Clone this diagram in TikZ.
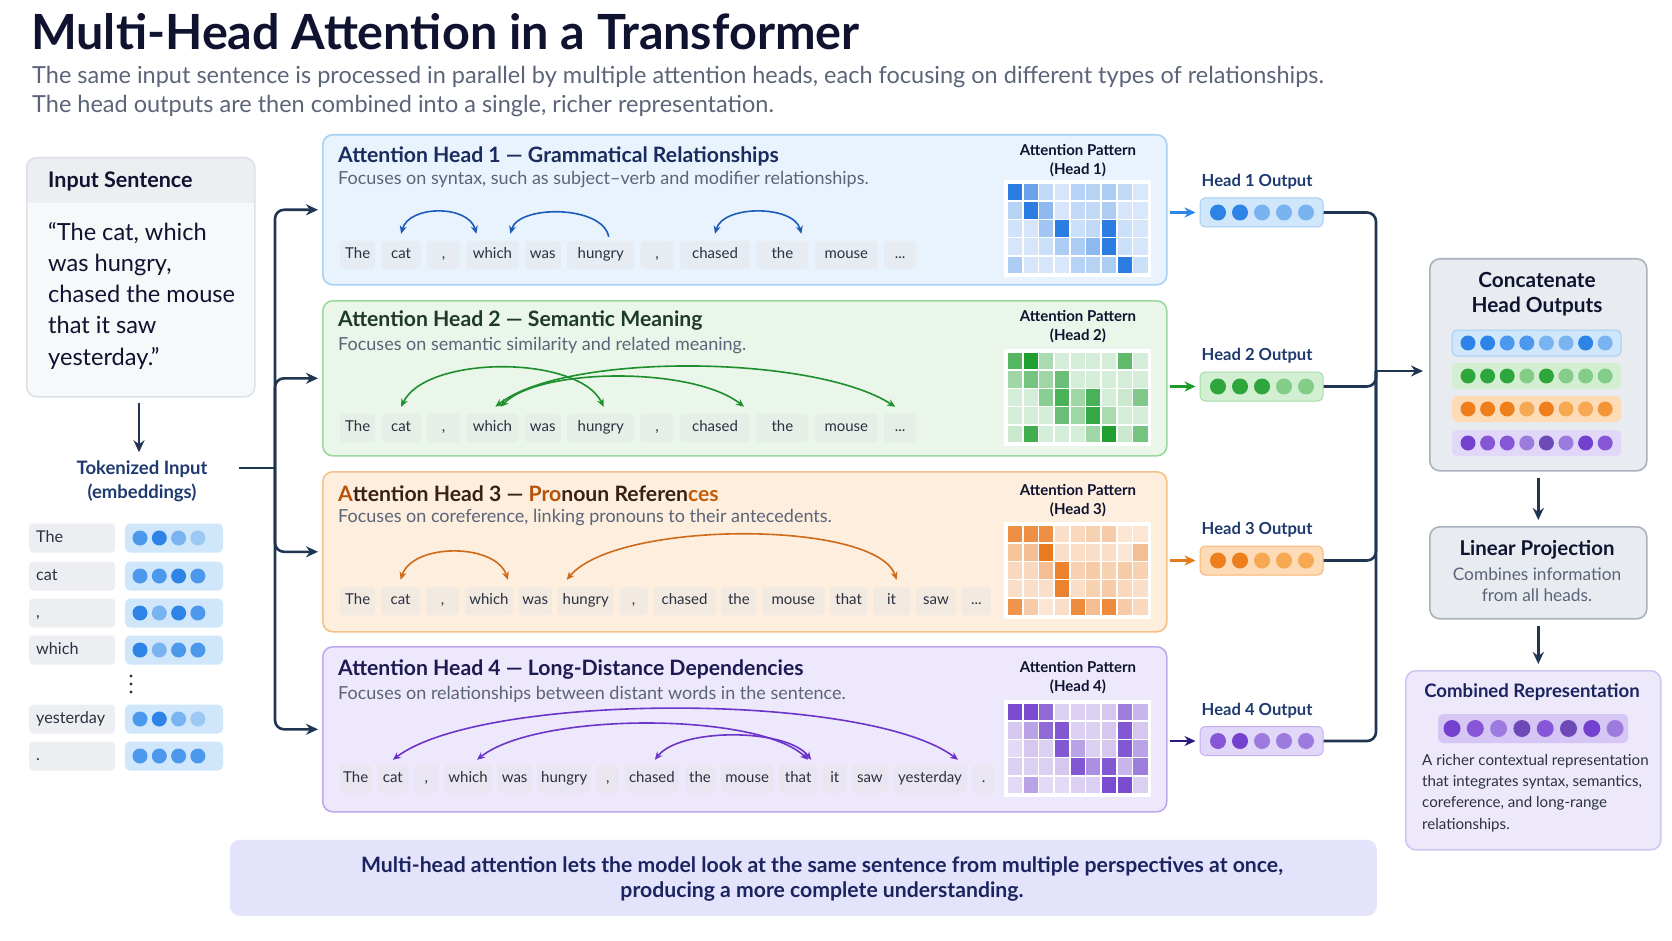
\documentclass[tikz,border=0pt]{standalone}
\usepackage{fontspec}
\setmainfont{Lato}
\usepackage{xcolor}
\usetikzlibrary{arrows.meta,positioning,calc}

\definecolor{mhnavy}{HTML}{1F3552}
\definecolor{titlec}{HTML}{0F1330}
\definecolor{subc}{HTML}{5B6478}
\definecolor{tokc}{HTML}{2B3140}
\definecolor{labc}{HTML}{1E3A6E}
\definecolor{h1fill}{HTML}{E8F3FD}
\definecolor{h1line}{HTML}{A8D1F4}
\definecolor{h1text}{HTML}{1A2B5E}
\definecolor{h1arc}{HTML}{1D5BB8}
\definecolor{h1out}{HTML}{2B86E4}
\definecolor{hm1}{HTML}{1A72E0}
\definecolor{h2fill}{HTML}{E9F6E9}
\definecolor{h2line}{HTML}{9BD89B}
\definecolor{h2text}{HTML}{1F3A28}
\definecolor{h2arc}{HTML}{1F8F2D}
\definecolor{h2out}{HTML}{1E9A2A}
\definecolor{hm2}{HTML}{139A25}
\definecolor{h3fill}{HTML}{FDEEDE}
\definecolor{h3line}{HTML}{F6C08A}
\definecolor{h3text}{HTML}{3A2212}
\definecolor{h3acc}{HTML}{B5530C}
\definecolor{h3arc}{HTML}{CF6A1A}
\definecolor{h3out}{HTML}{E07A1C}
\definecolor{hm3}{HTML}{E86E0C}
\definecolor{h4fill}{HTML}{EEE8FC}
\definecolor{h4line}{HTML}{BEA9EF}
\definecolor{h4text}{HTML}{1D1A52}
\definecolor{h4arc}{HTML}{6A35C8}
\definecolor{h4out}{HTML}{2C1A80}
\definecolor{hm4}{HTML}{6430C8}
\definecolor{insfill}{HTML}{F6F8FA}
\definecolor{insline}{HTML}{DDE2EA}
\definecolor{inshdr}{HTML}{ECEEF1}
\definecolor{grayfill}{HTML}{E8EBF0}
\definecolor{grayline}{HTML}{A9B1BD}
\definecolor{combfill}{HTML}{EDE9FB}
\definecolor{combline}{HTML}{CFC6F3}
\definecolor{bannerfill}{HTML}{E3E4FB}
\definecolor{bannertext}{HTML}{1C2460}
\definecolor{bluevec}{HTML}{CFE6FB}
\definecolor{bluevecline}{HTML}{A4CEF3}
\definecolor{greenvec}{HTML}{D2EFD2}
\definecolor{greenvecline}{HTML}{A6DCA6}
\definecolor{orangevec}{HTML}{FDDBB6}
\definecolor{orangevecline}{HTML}{F5B677}
\definecolor{purplevec}{HTML}{E1D7F8}
\definecolor{purplevecline}{HTML}{C4B0F0}
\definecolor{combvec}{HTML}{D6C6F5}
\definecolor{bA}{HTML}{2D84E6}
\definecolor{bB}{HTML}{4C98EC}
\definecolor{bC}{HTML}{79B4F0}
\definecolor{bD}{HTML}{9CC8F4}
\definecolor{gA}{HTML}{2EA63C}
\definecolor{gB}{HTML}{5CBB64}
\definecolor{gC}{HTML}{84CD88}
\definecolor{oA}{HTML}{EE7F1C}
\definecolor{oB}{HTML}{F39438}
\definecolor{oC}{HTML}{F6A852}
\definecolor{pA}{HTML}{7440CE}
\definecolor{pB}{HTML}{8656D6}
\definecolor{pC}{HTML}{9D7ADE}
\definecolor{pD}{HTML}{6E4AB8}

\newcommand{\px}[2]{\fontsize{#1}{#2}\selectfont}
\newcommand{\tokcomma}{,}
\newcommand{\tokdots}{...}

% token row: prefix, x, y, gap, list of width/text
\newcommand{\tokrow}[5]{%
  \foreach \w/\tx [count=\i] in {#5}{%
    \ifnum\i=1
      \node[tok, minimum width=\w pt, anchor=west] (#1\i) at (#2,#3) {\tx};
    \else
      \pgfmathtruncatemacro{\jprev}{\i-1}
      \node[tok, minimum width=\w pt, right=#4pt of #1\jprev] (#1\i) {\tx};
    \fi}}

% heat map: colour, x, y, rows
\newcommand{\heatmap}[4]{%
  \fill[white] ({#2-3},{#3-3}) rectangle ({#2+144},{#3+94});
  \foreach \row [count=\r from 0] in {#4}{%
    \foreach \v [count=\c from 0] in \row{%
      \pgfmathtruncatemacro{\vv}{10+0.9*\v}
      \fill[#1!\vv!white] ({#2+\c*15.7+0.8},{#3+\r*18.2+0.8}) rectangle ++(14.1,16.6);}}}

% dots of a vector: first x, y, step, radius, colours
\newcommand{\dotrow}[5]{%
  \foreach \col [count=\k from 0] in {#5}
    \fill[\col] ({#1+\k*#3},#2) circle[radius=#4pt];}

\begin{document}
\begin{tikzpicture}[
    x=1pt, y=-1pt,
    panel/.style={rounded corners=10pt, line width=1.6pt, anchor=north west, inner sep=0pt},
    tok/.style={fill=black!10, fill opacity=0.45, text opacity=1, rounded corners=3pt, minimum height=28pt, inner xsep=1pt, text height=10.5pt, text depth=3pt, font=\px{15}{17}, text=tokc},
    htitle/.style={anchor=west, inner sep=0pt, font=\px{21.2}{25}\bfseries},
    hsub/.style={anchor=west, inner sep=0pt, font=\px{18}{21}, text=subc},
    pattern/.style={align=center, font=\px{15}{19}\bfseries, text=titlec},
    outlab/.style={inner sep=0pt, font=\px{16.6}{19}\bfseries, text=labc},
    vecbox/.style={rounded corners=5pt, line width=1pt, minimum height=29pt},
    bus/.style={line width=2.6pt, draw=mhnavy, rounded corners=9pt},
    arrow/.style={bus, -{Stealth[length=12pt, width=11pt]}},
    outarrow/.style={line width=2.6pt, -{Stealth[length=11pt, width=10pt]}},
    arcs/.style={line width=1.6pt, {Stealth[length=8pt, width=7pt]}-{Stealth[length=8pt, width=7pt]}},
    arc/.style={line width=1.6pt, -{Stealth[length=8pt, width=7pt]}}
]
\useasboundingbox (0,0) rectangle (1672,941);
\fill[white] (0,0) rectangle (1672,941);

% Title
\node[anchor=west, inner sep=0pt, font=\px{48.5}{52}\bfseries, text=titlec] (title) at (31,32) {Multi-Head Attention in a Transformer};
\node[anchor=west, inner sep=0pt, font=\px{23.5}{28}, text=subc] (sub1) at (32,77) {The same input sentence is processed in parallel by multiple attention heads, each focusing on different types of relationships.};
\node[anchor=west, inner sep=0pt, font=\px{23.5}{28}, text=subc] (sub2) at (32,106) {The head outputs are then combined into a single, richer representation.};

% Input sentence
\fill[insfill, rounded corners=10pt] (26,157) rectangle (254,396);
\fill[inshdr, rounded corners=9pt] (26,157) rectangle (254,203);
\fill[inshdr] (26,185) rectangle (254,203);
\node[panel, draw=insline, minimum width=228pt, minimum height=239pt] (insent) at (26,157) {};
\node[anchor=west, inner sep=0pt, font=\px{21.5}{25}\bfseries, text=titlec] (inshead) at (48,181) {Input Sentence};
\node[anchor=north west, inner sep=0pt, align=left, font=\px{23.6}{31.2}, text=titlec] (quote) at (48,222) {“The cat, which\\was hungry,\\chased the mouse\\that it saw\\yesterday.”};

\node[align=center, inner sep=0pt, font=\px{18.5}{24}\bfseries, text=labc] (tokin) at (142,481) {Tokenized Input\\(embeddings)};
\draw[arrow, line width=2.4pt, rounded corners=0pt, shorten <=5pt, shorten >=8pt] (insent.south -| 139,0) -- (tokin.north -| 139,0);

% Token embeddings
\foreach \y/\w [count=\n] in {538/The, 576/cat, 613/\tokcomma, 650/which, 719/yesterday, 756/.}{
  \node[fill=inshdr, rounded corners=4pt, minimum height=29pt, text width=72pt, inner xsep=7pt, text height=11pt, text depth=3pt, align=left, anchor=west, font=\px{16.2}{18}, text=tokc] (l\n) at (29,\y) {\w};
  \node[vecbox, fill=bluevec, minimum width=98pt] (v\n) at (174,\y) {};
}
\dotrow{140}{538}{19.3}{7.5}{bB,bA,bC,bD}
\dotrow{140}{576}{19.3}{7.5}{bB,bB,bA,bB}
\dotrow{140}{613}{19.3}{7.5}{bA,bC,bA,bB}
\dotrow{140}{650}{19.3}{7.5}{bA,bC,bB,bB}
\dotrow{140}{719}{19.3}{7.5}{bB,bA,bC,bD}
\dotrow{140}{756}{19.3}{7.5}{bB,bB,bB,bB}
\foreach \y in {676,684,692} \fill[tokc] (131,\y) circle[radius=1.7pt];

% Attention heads
\node[panel, draw=h1line, fill=h1fill, minimum width=844pt, minimum height=150pt] (h1) at (322,134) {};
\node[panel, draw=h2line, fill=h2fill, minimum width=844pt, minimum height=155pt] (h2) at (322,300) {};
\node[panel, draw=h3line, fill=h3fill, minimum width=844pt, minimum height=160pt] (h3) at (322,471) {};
\node[panel, draw=h4line, fill=h4fill, minimum width=844pt, minimum height=165pt] (h4) at (322,646) {};

\node[htitle, text=h1text] (h1title) at (338,156) {Attention Head 1 — Grammatical Relationships};
\node[hsub] (h1sub) at (338,180) {Focuses on syntax, such as subject–verb and modifier relationships.};
\node[htitle, text=h2text] (h2title) at (338,321) {Attention Head 2 — Semantic Meaning};
\node[hsub] (h2sub) at (338,346) {Focuses on semantic similarity and related meaning.};
\node[htitle, text=h3text] (h3title) at (338,494) {\textcolor{h3acc}{A}ttention Head 3 — \textcolor{h3acc}{Pro}noun Referen\textcolor{h3acc!80!orange}{ces}};
\node[hsub] (h3sub) at (338,518) {Focuses on coreference, linking pronouns to their antecedents.};
\node[htitle, text=h4text] (h4title) at (338,670) {Attention Head 4 — Long-Distance Dependencies};
\node[hsub] (h4sub) at (338,694) {Focuses on relationships between distant words in the sentence.};

% Tokens
\tokrow{a}{340}{255}{6}{35/The, 39/cat, 33/\tokcomma, 52/which, 36/was, 67/hungry, 33/\tokcomma, 70/chased, 52/the, 63/mouse, 32/\tokdots}
\tokrow{b}{340}{428}{6}{35/The, 39/cat, 33/\tokcomma, 52/which, 36/was, 67/hungry, 33/\tokcomma, 70/chased, 52/the, 63/mouse, 32/\tokdots}
\tokrow{c}{340}{601}{5.5}{35/The, 39/cat, 33/\tokcomma, 48/which, 33/was, 56/hungry, 28/\tokcomma, 62/chased, 35/the, 62/mouse, 37/that, 37/it, 40/saw, 29/\tokdots}
\tokrow{d}{340}{779}{5.7}{31/The, 31/cat, 24/\tokcomma, 47/which, 34/was, 53/hungry, 22/\tokcomma, 54/chased, 30/the, 52/mouse, 38/that, 23/it, 35/saw, 73/yesterday, 22/.}

% Head 1 arcs
\draw[arcs, h1arc] ([yshift=7pt]a2.north) .. controls +(8,-29) and +(-8,-29) .. ([xshift=-16pt, yshift=7pt]a4.north);
\draw[arc, h1arc] ([xshift=8pt, yshift=4pt]a6.north) .. controls +(-6,-32) and +(8,-29) .. ([xshift=18pt, yshift=7pt]a4.north);
\draw[arcs, h1arc] ([yshift=7pt]a8.north) .. controls +(8,-29) and +(-8,-29) .. ([xshift=19pt, yshift=7pt]a9.north);

% Head 2 arcs
\draw[arcs, h2arc] ([yshift=7pt]b2.north) .. controls +(25,-52) and +(-25,-52) .. ([xshift=3pt, yshift=7pt]b6.north);
\draw[arcs, h2arc] ([xshift=8pt, yshift=7pt]b4.north) .. controls +(40,-40) and +(-50,-40) .. ([xshift=29pt, yshift=7pt]b8.north);
\draw[arcs, h2arc] ([xshift=3pt, yshift=7pt]b4.north) .. controls +(70,-55) and +(-80,-52) .. ([xshift=-5pt, yshift=7pt]b11.north);

% Head 3 arcs
\draw[arcs, h3arc] ([yshift=7pt]c2.north) .. controls +(12,-37) and +(-12,-37) .. ([xshift=19pt, yshift=7pt]c4.north);
\draw[arcs, h3arc] ([xshift=-19pt, yshift=7pt]c6.north) .. controls +(50,-60) and +(-20,-60) .. ([xshift=5pt, yshift=7pt]c12.north);

% Head 4 arcs
\draw[arcs, h4arc] ([yshift=5pt]d2.north) .. controls +(90,-68) and +(-90,-68) .. ([xshift=28pt, yshift=5pt]d14.north);
\draw[arcs, h4arc] ([xshift=9pt, yshift=5pt]d4.north) .. controls +(60,-48) and +(-50,-48) .. ([xshift=10pt, yshift=5pt]d11.north);
\draw[arcs, h4arc] ([xshift=3pt, yshift=5pt]d8.north) .. controls +(25,-32) and +(-25,-32) .. ([xshift=13pt, yshift=5pt]d11.north);

% Attention patterns
\node[pattern] (p1) at (1078,161) {Attention Pattern\\(Head 1)};
\node[pattern] (p2) at (1078,327) {Attention Pattern\\(Head 2)};
\node[pattern] (p3) at (1078,501) {Attention Pattern\\(Head 3)};
\node[pattern] (p4) at (1078,678) {Attention Pattern\\(Head 4)};
\heatmap{hm1}{1007}{183}{{92,62,20,10,25,25,30,20,8},{25,92,45,10,20,20,30,10,8},{12,10,35,92,15,20,92,15,10},{10,10,15,30,30,45,92,15,10},{30,10,10,8,25,25,30,92,15}}
\heatmap{hm2}{1007}{352}{{70,95,30,10,10,10,10,65,10},{35,55,35,60,10,10,10,10,10},{10,10,45,75,35,75,10,15,50},{10,10,10,60,35,85,30,10,10},{15,80,10,10,10,35,95,15,55}}
\heatmap{hm3}{1007}{525}{{75,75,75,15,20,25,30,10,10},{35,40,92,15,15,15,15,10,40},{20,20,40,85,25,30,25,30,25},{15,15,15,85,15,25,30,20,15},{72,30,10,15,78,40,78,30,20}}
\heatmap{hm4}{1007}{703}{{85,85,70,15,15,15,20,60,30},{20,40,70,80,15,15,20,80,20},{10,20,15,80,40,15,20,80,40},{15,15,15,20,80,50,80,30,60},{10,40,10,10,15,15,85,85,15}}

% Head outputs
\node[vecbox, fill=bluevec, draw=bluevecline, minimum width=123pt] (o1) at (1261.5,212.5) {};
\node[vecbox, fill=greenvec, draw=greenvecline, minimum width=123pt] (o2) at (1261.5,386.5) {};
\node[vecbox, fill=orangevec, draw=orangevecline, minimum width=123pt] (o3) at (1261.5,560.5) {};
\node[vecbox, fill=purplevec, draw=purplevecline, minimum width=123pt] (o4) at (1261.5,741) {};
\dotrow{1218}{212.5}{22}{8}{bA,bA,bC,bC,bC}
\dotrow{1218}{386.5}{22}{8}{gA,gA,gA,gC,gC}
\dotrow{1218}{560.5}{22}{8}{oA,oA,oC,oC,oC}
\dotrow{1218}{741}{22}{8}{pB,pA,pC,pC,pC}
\node[outlab, above right=8pt and 2pt of o1.north west] (o1lab) {Head 1 Output};
\node[outlab, above right=8pt and 2pt of o2.north west] (o2lab) {Head 2 Output};
\node[outlab, above right=8pt and 2pt of o3.north west] (o3lab) {Head 3 Output};
\node[outlab, above right=8pt and 2pt of o4.north west] (o4lab) {Head 4 Output};

\draw[outarrow, h1out, shorten <=2pt, shorten >=4pt] (h1.east |- o1.west) -- (o1.west);
\draw[outarrow, h2out, shorten <=2pt, shorten >=4pt] (h2.east |- o2.west) -- (o2.west);
\draw[outarrow, h3out, shorten <=2pt, shorten >=4pt] (h3.east |- o3.west) -- (o3.west);
\draw[outarrow, h4out, shorten <=2pt, shorten >=4pt] (h4.east |- o4.west) -- (o4.west);

% Input bus
\coordinate (tokout) at (239,468);
\coordinate (split) at (275,468);
\draw[bus] (tokout) -- (split);
\foreach \h in {h1,h2,h3,h4}
  \draw[arrow, shorten >=4pt] (split) |- (\h.west);

% Concatenate, projection, combined
\node[panel, draw=grayline, fill=grayfill, minimum width=217pt, minimum height=212pt] (concat) at (1429,258) {};
\node[align=center, font=\px{20.8}{25}\bfseries, text=titlec] (concattitle) at (1537,294) {Concatenate\\Head Outputs};
\node[vecbox, fill=bluevec, draw=bluevecline, minimum width=169pt, minimum height=26pt] (c1) at (1536.5,343) {};
\node[vecbox, fill=greenvec, minimum width=169pt, minimum height=26pt] (c2) at (1536.5,376) {};
\node[vecbox, fill=orangevec, minimum width=169pt, minimum height=26pt] (c3) at (1536.5,409) {};
\node[vecbox, fill=purplevec, minimum width=169pt, minimum height=26pt] (c4) at (1536.5,443) {};
\dotrow{1468}{343}{19.6}{7.5}{bA,bA,bB,bB,bC,bC,bA,bC}
\dotrow{1468}{376}{19.6}{7.5}{gA,gA,gA,gC,gA,gC,gC,gC}
\dotrow{1468}{409}{19.6}{7.5}{oA,oA,oA,oC,oA,oC,oC,oB}
\dotrow{1468}{443}{19.6}{7.5}{pA,pB,pB,pC,pD,pC,pA,pB}

\coordinate (merge) at (1376,371);
\draw[bus] (o1.east) -| (merge);
\draw[bus] (o2.east) -| (merge);
\draw[bus] (o3.east) -| (merge);
\draw[bus] (o4.east) -| (merge);
\draw[arrow, shorten >=6pt] (merge) -- (concat.west |- merge);

\node[panel, draw=grayline, fill=grayfill, minimum width=217pt, minimum height=92pt] (linproj) at (1429,526) {};
\node[font=\px{20.4}{24}\bfseries, text=titlec] (lintitle) at (1537,550) {Linear Projection};
\node[align=center, font=\px{17.3}{21}, text=subc] (linsub) at (1537,585) {Combines information\\from all heads.};

\node[panel, draw=combline, fill=combfill, minimum width=255pt, minimum height=179pt] (combined) at (1405,670) {};
\node[font=\px{18.6}{22}\bfseries, text=bannertext] (combtitle) at (1532,692) {Combined Representation};
\node[vecbox, fill=combvec, minimum width=190pt] (cv) at (1533,728.5) {};
\dotrow{1452}{728.5}{23.3}{8.5}{pA,pB,pC,pD,pB,pD,pA,pC}
\node[anchor=north west, inner sep=0pt, align=left, font=\px{15.1}{21.3}, text=tokc] (combtext) at (1422,754) {A richer contextual representation\\that integrates syntax, semantics,\\coreference, and long-range\\relationships.};

\draw[arrow, rounded corners=0pt, shorten <=6pt, shorten >=6pt] (concat.south) -- (linproj.north);
\draw[arrow, rounded corners=0pt, shorten <=6pt, shorten >=6pt] (linproj.south) -- (combined.north -| linproj.south);

% Banner
\node[panel, fill=bannerfill, minimum width=1147pt, minimum height=76pt] (banner) at (229,839) {};
\node[align=center, font=\px{21.2}{25.5}\bfseries, text=bannertext] (bannertxt) at (822,879) {Multi-head attention lets the model look at the same sentence from multiple perspectives at once,\\producing a more complete understanding.};

\end{tikzpicture}
\end{document}
